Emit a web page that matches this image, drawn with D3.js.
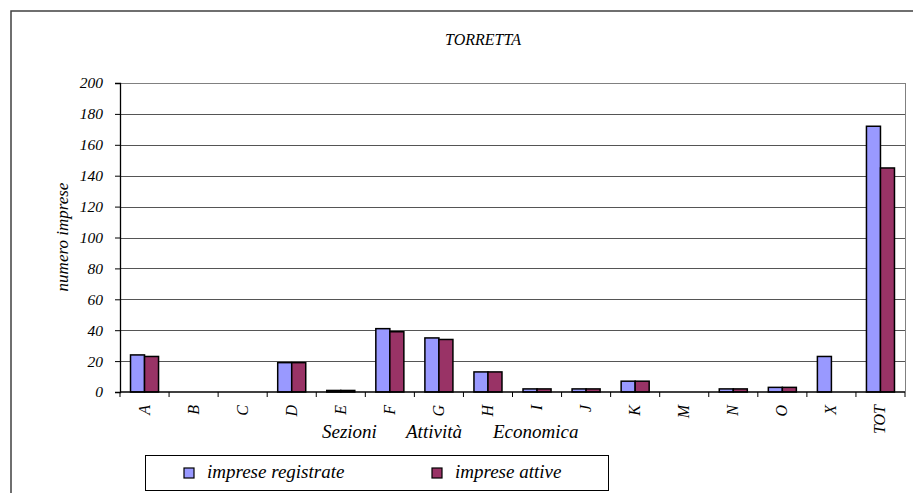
<!DOCTYPE html>
<html><head><meta charset="utf-8">
<script src="https://cdn.jsdelivr.net/npm/d3@7"></script>
<style>body{margin:0;background:#fff}svg{display:block}</style>
</head><body><svg id="c" width="913" height="493"></svg>
<script>
const categories = ["A","B","C","D","E","F","G","H","I","J","K","M","N","O","X","TOT"];
const registrate = [24,0,0,19,1,41,35,13,2,2,7,0,2,3,23,172];
const attive     = [23,0,0,19,1,39,34,13,2,2,7,0,2,3,0,145];
const seriesNames = ["imprese registrate","imprese attive"];
const seriesColors = ["#9999FF","#993366"];
const yTicks = [0,20,40,60,80,100,120,140,160,180,200];

const FF = "Liberation Serif";
const svg = d3.select("#c");
// outer frame
svg.append("rect").attr("x",11).attr("y",11).attr("width",960).attr("height",520)
  .attr("fill","none").attr("stroke","#404040").attr("stroke-width",1.5);

const L=120,R=905,T=83,B=392;
const x0 = d3.scaleBand().domain(categories).range([L,R]);
const x1 = d3.scaleBand().domain([0,1]).range([0,x0.bandwidth()]).paddingOuter(0.75);
const y = d3.scaleLinear().domain([0,200]).range([B,T]);

// gridlines
svg.append("g").selectAll("line").data(yTicks.filter(d=>d>0)).join("line")
  .attr("x1",L).attr("x2",R).attr("y1",d=>Math.round(y(d))+0.5).attr("y2",d=>Math.round(y(d))+0.5)
  .attr("stroke",d=>d===200?"#808080":"#555").attr("stroke-width",1);
// right border
svg.append("line").attr("x1",R+0.5).attr("x2",R+0.5).attr("y1",T).attr("y2",B).attr("stroke","#808080");

// bars
const data = categories.map((c,i)=>({c,vals:[registrate[i],attive[i]]}));
svg.append("g").selectAll("g").data(data).join("g")
  .attr("transform",d=>`translate(${x0(d.c)},0)`)
  .selectAll("rect").data(d=>d.vals.map((v,k)=>({v,k}))).join("rect")
  .filter(d=>d.v>0)
  .attr("x",d=>x1(d.k)).attr("width",x1.bandwidth())
  .attr("y",d=>y(d.v)).attr("height",d=>B-y(d.v))
  .attr("fill",d=>seriesColors[d.k]).attr("stroke","#000").attr("stroke-width",1.5);

// y axis
const yAxis = svg.append("g").attr("transform",`translate(${L},0)`)
  .call(d3.axisLeft(y).tickValues(yTicks).tickSize(5).tickPadding(12));
yAxis.attr("font-family",FF).attr("font-size",15.5).attr("font-style","italic");
yAxis.selectAll("text").attr("fill","#000");
yAxis.select(".domain").attr("stroke","#000").attr("stroke-width",1.3);
yAxis.selectAll(".tick line").attr("stroke","#000");

// x axis
const xg = svg.append("g").attr("transform",`translate(0,${B})`);
xg.append("line").attr("x1",L).attr("x2",R).attr("y1",0).attr("y2",0).attr("stroke","#000").attr("stroke-width",1.3);
xg.selectAll("line.t").data(categories.concat(["_end"])).join("line").attr("class","t")
  .attr("x1",(d,i)=>L+i*x0.step()).attr("x2",(d,i)=>L+i*x0.step()).attr("y1",0).attr("y2",5)
  .attr("stroke","#000");
xg.selectAll("text").data(categories).join("text")
  .attr("transform",d=>`translate(${x0(d)+x0.bandwidth()/2+5},13) rotate(-90)`)
  .attr("text-anchor","end").attr("font-family",FF).attr("font-style","italic").attr("font-size",16).text(d=>d);

// title
svg.append("text").attr("x",483).attr("y",45).attr("text-anchor","middle").attr("font-family",FF)
  .attr("font-style","italic").attr("font-size",16).text("TORRETTA");
// y title
svg.append("text").attr("transform","translate(68,237) rotate(-90)").attr("text-anchor","middle")
  .attr("font-family",FF).attr("font-style","italic").attr("font-size",17).text("numero imprese");
// x title
const xt = svg.append("text").attr("y",438).attr("font-family",FF).attr("font-style","italic").attr("font-size",19);
[["Sezioni",322],["Attività",406],["Economica",493]].forEach(([t,xx])=>xt.append("tspan").attr("x",xx).text(t));

// legend
const lg = svg.append("g");
lg.append("rect").attr("x",145.5).attr("y",455.5).attr("width",463).attr("height",35)
  .attr("fill","#fff").attr("stroke","#000").attr("stroke-width",1);
const lx = [184,432];
seriesNames.forEach((n,i)=>{
  lg.append("rect").attr("x",lx[i]).attr("y",468).attr("width",10).attr("height",10)
    .attr("fill",seriesColors[i]).attr("stroke","#000").attr("stroke-width",1.2);
  lg.append("text").attr("x",lx[i]+23).attr("y",478).attr("font-family",FF).attr("font-style","italic")
    .attr("font-size",19).text(n);
});
</script></body></html>
